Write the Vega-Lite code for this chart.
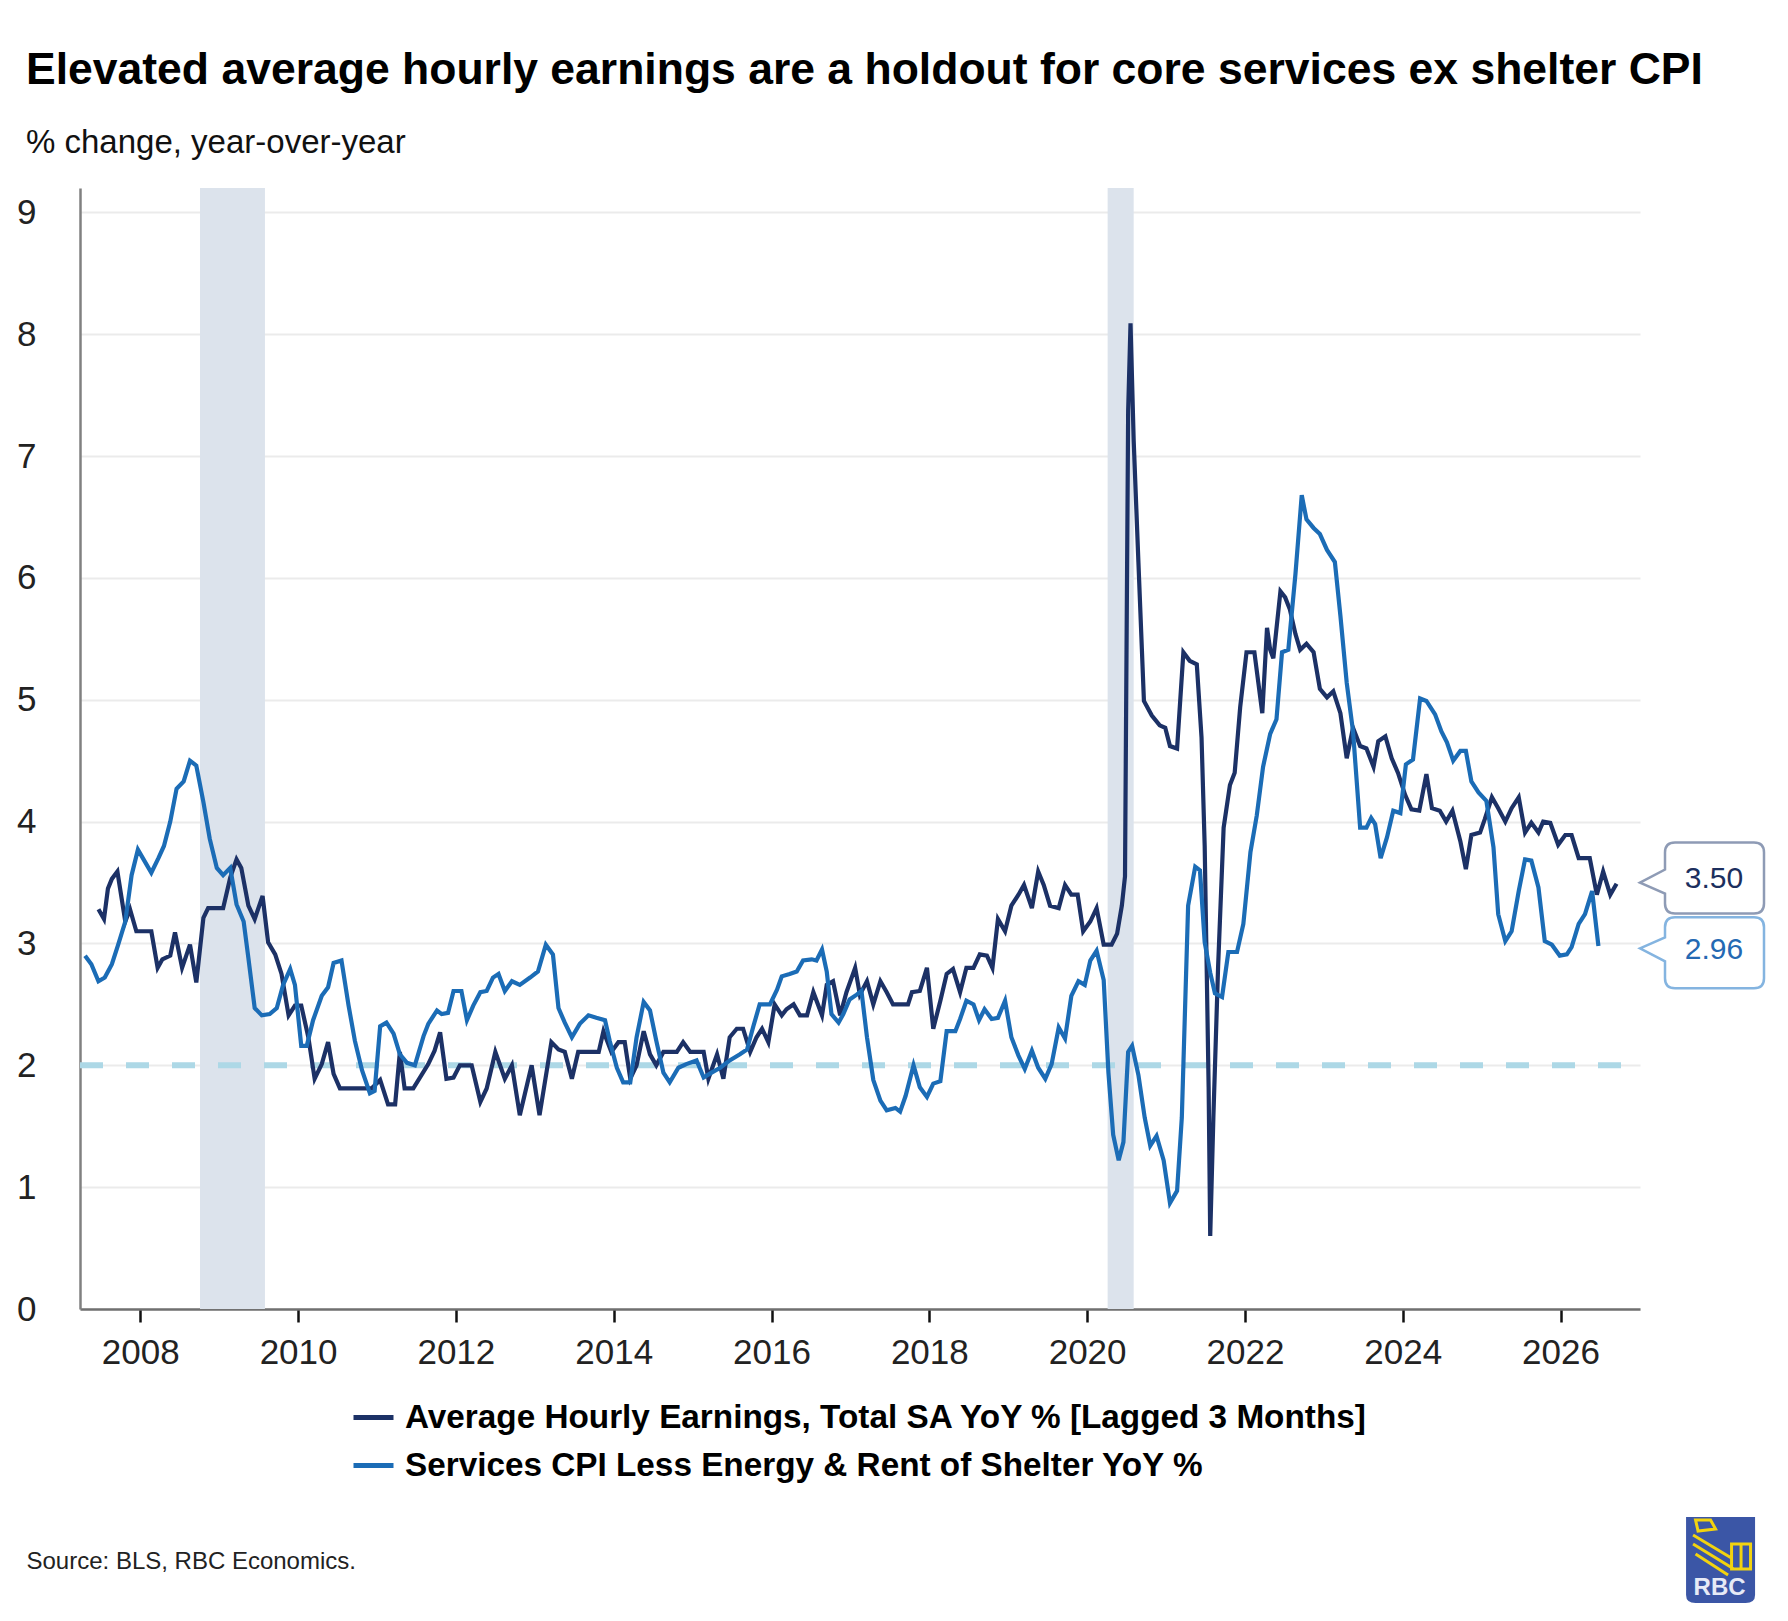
{
"$schema": "https://vega.github.io/schema/vega-lite/v6.json",
"autosize": {"type": "none"},
"padding": {"left": 80, "top": 188, "right": 148, "bottom": 312},
"width": 1560,
"height": 1121,
"background": "white",
"config": {"font": "Liberation Sans", "view": {"stroke": null}},
"title": {"text": "Elevated average hourly earnings are a holdout for core services ex shelter CPI", "subtitle": "% change, year-over-year", "anchor": "start", "frame": "group", "dx": -54, "fontSize": 44.5, "fontWeight": "bold", "color": "#000000", "font": "Liberation Sans", "subtitleFont": "Liberation Sans", "subtitleFontSize": 33, "subtitleColor": "#111111", "subtitlePadding": 33.5, "offset": 27},
"datasets": {
"series": [
{"s":"ahe","x":2007.47,"v":3.28},{"s":"ahe","x":2007.54,"v":3.20},{"s":"ahe","x":2007.59,"v":3.45},{"s":"ahe","x":2007.64,"v":3.53},{"s":"ahe","x":2007.71,"v":3.59},{"s":"ahe","x":2007.81,"v":3.18},{"s":"ahe","x":2007.87,"v":3.28},{"s":"ahe","x":2007.95,"v":3.10},{"s":"ahe","x":2008.14,"v":3.10},{"s":"ahe","x":2008.22,"v":2.80},{"s":"ahe","x":2008.28,"v":2.87},{"s":"ahe","x":2008.38,"v":2.90},{"s":"ahe","x":2008.44,"v":3.09},{"s":"ahe","x":2008.53,"v":2.80},{"s":"ahe","x":2008.63,"v":2.99},{"s":"ahe","x":2008.71,"v":2.68},{"s":"ahe","x":2008.80,"v":3.21},{"s":"ahe","x":2008.86,"v":3.29},{"s":"ahe","x":2009.05,"v":3.29},{"s":"ahe","x":2009.14,"v":3.54},{"s":"ahe","x":2009.22,"v":3.69},{"s":"ahe","x":2009.28,"v":3.62},{"s":"ahe","x":2009.37,"v":3.31},{"s":"ahe","x":2009.45,"v":3.20},{"s":"ahe","x":2009.55,"v":3.39},{"s":"ahe","x":2009.62,"v":3.01},{"s":"ahe","x":2009.71,"v":2.91},{"s":"ahe","x":2009.79,"v":2.75},{"s":"ahe","x":2009.88,"v":2.41},{"s":"ahe","x":2009.96,"v":2.49},{"s":"ahe","x":2010.04,"v":2.49},{"s":"ahe","x":2010.13,"v":2.23},{"s":"ahe","x":2010.21,"v":1.89},{"s":"ahe","x":2010.30,"v":2.01},{"s":"ahe","x":2010.38,"v":2.19},{"s":"ahe","x":2010.45,"v":1.93},{"s":"ahe","x":2010.53,"v":1.81},{"s":"ahe","x":2010.93,"v":1.81},{"s":"ahe","x":2011.04,"v":1.88},{"s":"ahe","x":2011.14,"v":1.68},{"s":"ahe","x":2011.23,"v":1.68},{"s":"ahe","x":2011.29,"v":2.11},{"s":"ahe","x":2011.35,"v":1.81},{"s":"ahe","x":2011.46,"v":1.81},{"s":"ahe","x":2011.65,"v":2.01},{"s":"ahe","x":2011.73,"v":2.12},{"s":"ahe","x":2011.80,"v":2.27},{"s":"ahe","x":2011.88,"v":1.89},{"s":"ahe","x":2011.97,"v":1.90},{"s":"ahe","x":2012.05,"v":2.00},{"s":"ahe","x":2012.20,"v":2.00},{"s":"ahe","x":2012.31,"v":1.70},{"s":"ahe","x":2012.39,"v":1.81},{"s":"ahe","x":2012.50,"v":2.11},{"s":"ahe","x":2012.62,"v":1.89},{"s":"ahe","x":2012.71,"v":2.00},{"s":"ahe","x":2012.81,"v":1.59},{"s":"ahe","x":2012.96,"v":2.00},{"s":"ahe","x":2013.06,"v":1.59},{"s":"ahe","x":2013.21,"v":2.19},{"s":"ahe","x":2013.30,"v":2.13},{"s":"ahe","x":2013.38,"v":2.11},{"s":"ahe","x":2013.47,"v":1.89},{"s":"ahe","x":2013.55,"v":2.11},{"s":"ahe","x":2013.81,"v":2.11},{"s":"ahe","x":2013.87,"v":2.28},{"s":"ahe","x":2013.97,"v":2.11},{"s":"ahe","x":2014.06,"v":2.19},{"s":"ahe","x":2014.14,"v":2.19},{"s":"ahe","x":2014.21,"v":1.89},{"s":"ahe","x":2014.29,"v":2.00},{"s":"ahe","x":2014.38,"v":2.28},{"s":"ahe","x":2014.46,"v":2.09},{"s":"ahe","x":2014.54,"v":2.00},{"s":"ahe","x":2014.63,"v":2.11},{"s":"ahe","x":2014.80,"v":2.11},{"s":"ahe","x":2014.88,"v":2.19},{"s":"ahe","x":2014.97,"v":2.11},{"s":"ahe","x":2015.14,"v":2.11},{"s":"ahe","x":2015.20,"v":1.89},{"s":"ahe","x":2015.31,"v":2.09},{"s":"ahe","x":2015.39,"v":1.89},{"s":"ahe","x":2015.47,"v":2.23},{"s":"ahe","x":2015.56,"v":2.30},{"s":"ahe","x":2015.64,"v":2.30},{"s":"ahe","x":2015.73,"v":2.11},{"s":"ahe","x":2015.81,"v":2.23},{"s":"ahe","x":2015.88,"v":2.30},{"s":"ahe","x":2015.96,"v":2.19},{"s":"ahe","x":2016.04,"v":2.50},{"s":"ahe","x":2016.13,"v":2.41},{"s":"ahe","x":2016.19,"v":2.46},{"s":"ahe","x":2016.28,"v":2.50},{"s":"ahe","x":2016.36,"v":2.41},{"s":"ahe","x":2016.45,"v":2.41},{"s":"ahe","x":2016.53,"v":2.60},{"s":"ahe","x":2016.64,"v":2.41},{"s":"ahe","x":2016.70,"v":2.66},{"s":"ahe","x":2016.78,"v":2.69},{"s":"ahe","x":2016.87,"v":2.41},{"s":"ahe","x":2016.95,"v":2.60},{"s":"ahe","x":2017.06,"v":2.80},{"s":"ahe","x":2017.12,"v":2.58},{"s":"ahe","x":2017.21,"v":2.69},{"s":"ahe","x":2017.29,"v":2.50},{"s":"ahe","x":2017.38,"v":2.69},{"s":"ahe","x":2017.46,"v":2.60},{"s":"ahe","x":2017.54,"v":2.50},{"s":"ahe","x":2017.73,"v":2.50},{"s":"ahe","x":2017.78,"v":2.60},{"s":"ahe","x":2017.88,"v":2.61},{"s":"ahe","x":2017.97,"v":2.80},{"s":"ahe","x":2018.05,"v":2.30},{"s":"ahe","x":2018.14,"v":2.53},{"s":"ahe","x":2018.22,"v":2.75},{"s":"ahe","x":2018.30,"v":2.79},{"s":"ahe","x":2018.39,"v":2.60},{"s":"ahe","x":2018.47,"v":2.80},{"s":"ahe","x":2018.56,"v":2.80},{"s":"ahe","x":2018.64,"v":2.91},{"s":"ahe","x":2018.73,"v":2.90},{"s":"ahe","x":2018.80,"v":2.80},{"s":"ahe","x":2018.87,"v":3.20},{"s":"ahe","x":2018.96,"v":3.10},{"s":"ahe","x":2019.04,"v":3.31},{"s":"ahe","x":2019.13,"v":3.40},{"s":"ahe","x":2019.20,"v":3.48},{"s":"ahe","x":2019.30,"v":3.29},{"s":"ahe","x":2019.38,"v":3.59},{"s":"ahe","x":2019.45,"v":3.48},{"s":"ahe","x":2019.53,"v":3.31},{"s":"ahe","x":2019.64,"v":3.29},{"s":"ahe","x":2019.72,"v":3.48},{"s":"ahe","x":2019.80,"v":3.40},{"s":"ahe","x":2019.88,"v":3.40},{"s":"ahe","x":2019.95,"v":3.10},{"s":"ahe","x":2020.04,"v":3.18},{"s":"ahe","x":2020.12,"v":3.29},{"s":"ahe","x":2020.21,"v":2.99},{"s":"ahe","x":2020.31,"v":2.99},{"s":"ahe","x":2020.38,"v":3.08},{"s":"ahe","x":2020.44,"v":3.31},{"s":"ahe","x":2020.48,"v":3.55},{"s":"ahe","x":2020.52,"v":7.37},{"s":"ahe","x":2020.55,"v":8.09},{"s":"ahe","x":2020.59,"v":7.13},{"s":"ahe","x":2020.65,"v":6.13},{"s":"ahe","x":2020.72,"v":4.99},{"s":"ahe","x":2020.82,"v":4.87},{"s":"ahe","x":2020.92,"v":4.79},{"s":"ahe","x":2020.99,"v":4.77},{"s":"ahe","x":2021.05,"v":4.62},{"s":"ahe","x":2021.14,"v":4.60},{"s":"ahe","x":2021.22,"v":5.39},{"s":"ahe","x":2021.30,"v":5.32},{"s":"ahe","x":2021.39,"v":5.29},{"s":"ahe","x":2021.45,"v":4.69},{"s":"ahe","x":2021.49,"v":3.80},{"s":"ahe","x":2021.54,"v":1.82},{"s":"ahe","x":2021.56,"v":0.60},{"s":"ahe","x":2021.60,"v":1.57},{"s":"ahe","x":2021.66,"v":2.81},{"s":"ahe","x":2021.73,"v":3.95},{"s":"ahe","x":2021.81,"v":4.30},{"s":"ahe","x":2021.87,"v":4.40},{"s":"ahe","x":2021.94,"v":4.94},{"s":"ahe","x":2022.02,"v":5.39},{"s":"ahe","x":2022.12,"v":5.39},{"s":"ahe","x":2022.17,"v":5.14},{"s":"ahe","x":2022.22,"v":4.89},{"s":"ahe","x":2022.28,"v":5.59},{"s":"ahe","x":2022.32,"v":5.41},{"s":"ahe","x":2022.36,"v":5.34},{"s":"ahe","x":2022.45,"v":5.89},{"s":"ahe","x":2022.51,"v":5.84},{"s":"ahe","x":2022.57,"v":5.74},{"s":"ahe","x":2022.64,"v":5.54},{"s":"ahe","x":2022.70,"v":5.41},{"s":"ahe","x":2022.78,"v":5.46},{"s":"ahe","x":2022.87,"v":5.39},{"s":"ahe","x":2022.95,"v":5.09},{"s":"ahe","x":2023.04,"v":5.02},{"s":"ahe","x":2023.12,"v":5.07},{"s":"ahe","x":2023.21,"v":4.89},{"s":"ahe","x":2023.29,"v":4.52},{"s":"ahe","x":2023.37,"v":4.77},{"s":"ahe","x":2023.46,"v":4.62},{"s":"ahe","x":2023.54,"v":4.60},{"s":"ahe","x":2023.63,"v":4.45},{"s":"ahe","x":2023.69,"v":4.66},{"s":"ahe","x":2023.78,"v":4.70},{"s":"ahe","x":2023.86,"v":4.52},{"s":"ahe","x":2023.94,"v":4.40},{"s":"ahe","x":2024.03,"v":4.22},{"s":"ahe","x":2024.11,"v":4.10},{"s":"ahe","x":2024.21,"v":4.09},{"s":"ahe","x":2024.30,"v":4.39},{"s":"ahe","x":2024.37,"v":4.11},{"s":"ahe","x":2024.47,"v":4.09},{"s":"ahe","x":2024.55,"v":4.00},{"s":"ahe","x":2024.63,"v":4.09},{"s":"ahe","x":2024.73,"v":3.84},{"s":"ahe","x":2024.80,"v":3.61},{"s":"ahe","x":2024.87,"v":3.89},{"s":"ahe","x":2024.98,"v":3.91},{"s":"ahe","x":2025.04,"v":4.02},{"s":"ahe","x":2025.13,"v":4.20},{"s":"ahe","x":2025.21,"v":4.11},{"s":"ahe","x":2025.30,"v":4.00},{"s":"ahe","x":2025.38,"v":4.11},{"s":"ahe","x":2025.47,"v":4.20},{"s":"ahe","x":2025.55,"v":3.91},{"s":"ahe","x":2025.63,"v":3.99},{"s":"ahe","x":2025.72,"v":3.91},{"s":"ahe","x":2025.78,"v":4.00},{"s":"ahe","x":2025.87,"v":3.99},{"s":"ahe","x":2025.97,"v":3.81},{"s":"ahe","x":2026.06,"v":3.89},{"s":"ahe","x":2026.14,"v":3.89},{"s":"ahe","x":2026.23,"v":3.70},{"s":"ahe","x":2026.37,"v":3.70},{"s":"ahe","x":2026.46,"v":3.40},{"s":"ahe","x":2026.54,"v":3.59},{"s":"ahe","x":2026.63,"v":3.40},{"s":"ahe","x":2026.71,"v":3.49},
{"s":"cpi","x":2007.30,"v":2.90},{"s":"cpi","x":2007.38,"v":2.83},{"s":"cpi","x":2007.47,"v":2.69},{"s":"cpi","x":2007.55,"v":2.72},{"s":"cpi","x":2007.64,"v":2.83},{"s":"cpi","x":2007.72,"v":2.99},{"s":"cpi","x":2007.81,"v":3.18},{"s":"cpi","x":2007.89,"v":3.56},{"s":"cpi","x":2007.97,"v":3.77},{"s":"cpi","x":2008.06,"v":3.67},{"s":"cpi","x":2008.14,"v":3.58},{"s":"cpi","x":2008.23,"v":3.70},{"s":"cpi","x":2008.30,"v":3.80},{"s":"cpi","x":2008.38,"v":4.00},{"s":"cpi","x":2008.46,"v":4.27},{"s":"cpi","x":2008.55,"v":4.33},{"s":"cpi","x":2008.63,"v":4.50},{"s":"cpi","x":2008.71,"v":4.46},{"s":"cpi","x":2008.80,"v":4.16},{"s":"cpi","x":2008.88,"v":3.86},{"s":"cpi","x":2008.97,"v":3.62},{"s":"cpi","x":2009.05,"v":3.56},{"s":"cpi","x":2009.14,"v":3.62},{"s":"cpi","x":2009.22,"v":3.32},{"s":"cpi","x":2009.31,"v":3.18},{"s":"cpi","x":2009.37,"v":2.88},{"s":"cpi","x":2009.45,"v":2.47},{"s":"cpi","x":2009.54,"v":2.41},{"s":"cpi","x":2009.64,"v":2.42},{"s":"cpi","x":2009.73,"v":2.47},{"s":"cpi","x":2009.81,"v":2.66},{"s":"cpi","x":2009.90,"v":2.79},{"s":"cpi","x":2009.96,"v":2.66},{"s":"cpi","x":2010.04,"v":2.16},{"s":"cpi","x":2010.11,"v":2.16},{"s":"cpi","x":2010.19,"v":2.37},{"s":"cpi","x":2010.30,"v":2.57},{"s":"cpi","x":2010.38,"v":2.64},{"s":"cpi","x":2010.45,"v":2.84},{"s":"cpi","x":2010.55,"v":2.86},{"s":"cpi","x":2010.64,"v":2.49},{"s":"cpi","x":2010.72,"v":2.20},{"s":"cpi","x":2010.81,"v":1.96},{"s":"cpi","x":2010.91,"v":1.77},{"s":"cpi","x":2010.97,"v":1.79},{"s":"cpi","x":2011.04,"v":2.32},{"s":"cpi","x":2011.12,"v":2.35},{"s":"cpi","x":2011.21,"v":2.26},{"s":"cpi","x":2011.29,"v":2.09},{"s":"cpi","x":2011.38,"v":2.02},{"s":"cpi","x":2011.48,"v":2.00},{"s":"cpi","x":2011.59,"v":2.24},{"s":"cpi","x":2011.65,"v":2.34},{"s":"cpi","x":2011.76,"v":2.45},{"s":"cpi","x":2011.82,"v":2.42},{"s":"cpi","x":2011.90,"v":2.43},{"s":"cpi","x":2011.97,"v":2.61},{"s":"cpi","x":2012.07,"v":2.61},{"s":"cpi","x":2012.14,"v":2.37},{"s":"cpi","x":2012.22,"v":2.49},{"s":"cpi","x":2012.31,"v":2.60},{"s":"cpi","x":2012.39,"v":2.61},{"s":"cpi","x":2012.47,"v":2.72},{"s":"cpi","x":2012.54,"v":2.75},{"s":"cpi","x":2012.62,"v":2.61},{"s":"cpi","x":2012.71,"v":2.69},{"s":"cpi","x":2012.81,"v":2.66},{"s":"cpi","x":2012.94,"v":2.72},{"s":"cpi","x":2013.04,"v":2.77},{"s":"cpi","x":2013.14,"v":2.99},{"s":"cpi","x":2013.23,"v":2.91},{"s":"cpi","x":2013.30,"v":2.47},{"s":"cpi","x":2013.38,"v":2.35},{"s":"cpi","x":2013.47,"v":2.23},{"s":"cpi","x":2013.57,"v":2.34},{"s":"cpi","x":2013.68,"v":2.41},{"s":"cpi","x":2013.78,"v":2.39},{"s":"cpi","x":2013.89,"v":2.37},{"s":"cpi","x":2013.95,"v":2.20},{"s":"cpi","x":2014.04,"v":1.98},{"s":"cpi","x":2014.12,"v":1.86},{"s":"cpi","x":2014.21,"v":1.86},{"s":"cpi","x":2014.29,"v":2.23},{"s":"cpi","x":2014.38,"v":2.52},{"s":"cpi","x":2014.46,"v":2.45},{"s":"cpi","x":2014.54,"v":2.20},{"s":"cpi","x":2014.63,"v":1.94},{"s":"cpi","x":2014.71,"v":1.86},{"s":"cpi","x":2014.82,"v":1.98},{"s":"cpi","x":2014.92,"v":2.01},{"s":"cpi","x":2015.05,"v":2.04},{"s":"cpi","x":2015.14,"v":1.90},{"s":"cpi","x":2015.24,"v":1.94},{"s":"cpi","x":2015.35,"v":1.98},{"s":"cpi","x":2015.47,"v":2.04},{"s":"cpi","x":2015.60,"v":2.09},{"s":"cpi","x":2015.69,"v":2.13},{"s":"cpi","x":2015.77,"v":2.32},{"s":"cpi","x":2015.85,"v":2.50},{"s":"cpi","x":2015.98,"v":2.50},{"s":"cpi","x":2016.07,"v":2.62},{"s":"cpi","x":2016.13,"v":2.73},{"s":"cpi","x":2016.23,"v":2.75},{"s":"cpi","x":2016.32,"v":2.77},{"s":"cpi","x":2016.40,"v":2.86},{"s":"cpi","x":2016.51,"v":2.87},{"s":"cpi","x":2016.57,"v":2.86},{"s":"cpi","x":2016.64,"v":2.95},{"s":"cpi","x":2016.70,"v":2.77},{"s":"cpi","x":2016.76,"v":2.42},{"s":"cpi","x":2016.85,"v":2.35},{"s":"cpi","x":2016.91,"v":2.42},{"s":"cpi","x":2016.99,"v":2.54},{"s":"cpi","x":2017.08,"v":2.58},{"s":"cpi","x":2017.14,"v":2.61},{"s":"cpi","x":2017.21,"v":2.23},{"s":"cpi","x":2017.29,"v":1.88},{"s":"cpi","x":2017.38,"v":1.71},{"s":"cpi","x":2017.46,"v":1.63},{"s":"cpi","x":2017.57,"v":1.65},{"s":"cpi","x":2017.63,"v":1.62},{"s":"cpi","x":2017.70,"v":1.75},{"s":"cpi","x":2017.80,"v":2.00},{"s":"cpi","x":2017.88,"v":1.82},{"s":"cpi","x":2017.97,"v":1.74},{"s":"cpi","x":2018.05,"v":1.85},{"s":"cpi","x":2018.14,"v":1.87},{"s":"cpi","x":2018.22,"v":2.28},{"s":"cpi","x":2018.33,"v":2.28},{"s":"cpi","x":2018.39,"v":2.38},{"s":"cpi","x":2018.47,"v":2.53},{"s":"cpi","x":2018.56,"v":2.50},{"s":"cpi","x":2018.63,"v":2.37},{"s":"cpi","x":2018.70,"v":2.46},{"s":"cpi","x":2018.79,"v":2.38},{"s":"cpi","x":2018.87,"v":2.39},{"s":"cpi","x":2018.96,"v":2.53},{"s":"cpi","x":2019.04,"v":2.23},{"s":"cpi","x":2019.13,"v":2.08},{"s":"cpi","x":2019.21,"v":1.97},{"s":"cpi","x":2019.30,"v":2.12},{"s":"cpi","x":2019.38,"v":1.98},{"s":"cpi","x":2019.47,"v":1.89},{"s":"cpi","x":2019.55,"v":2.01},{"s":"cpi","x":2019.64,"v":2.31},{"s":"cpi","x":2019.72,"v":2.22},{"s":"cpi","x":2019.80,"v":2.57},{"s":"cpi","x":2019.89,"v":2.69},{"s":"cpi","x":2019.97,"v":2.66},{"s":"cpi","x":2020.04,"v":2.86},{"s":"cpi","x":2020.12,"v":2.94},{"s":"cpi","x":2020.21,"v":2.70},{"s":"cpi","x":2020.27,"v":1.94},{"s":"cpi","x":2020.33,"v":1.43},{"s":"cpi","x":2020.40,"v":1.22},{"s":"cpi","x":2020.46,"v":1.37},{"s":"cpi","x":2020.52,"v":2.11},{"s":"cpi","x":2020.57,"v":2.16},{"s":"cpi","x":2020.65,"v":1.92},{"s":"cpi","x":2020.73,"v":1.57},{"s":"cpi","x":2020.80,"v":1.34},{"s":"cpi","x":2020.88,"v":1.42},{"s":"cpi","x":2020.97,"v":1.22},{"s":"cpi","x":2021.05,"v":0.87},{"s":"cpi","x":2021.14,"v":0.97},{"s":"cpi","x":2021.20,"v":1.57},{"s":"cpi","x":2021.28,"v":3.31},{"s":"cpi","x":2021.37,"v":3.63},{"s":"cpi","x":2021.43,"v":3.60},{"s":"cpi","x":2021.49,"v":3.01},{"s":"cpi","x":2021.56,"v":2.76},{"s":"cpi","x":2021.62,"v":2.59},{"s":"cpi","x":2021.71,"v":2.56},{"s":"cpi","x":2021.79,"v":2.93},{"s":"cpi","x":2021.90,"v":2.93},{"s":"cpi","x":2021.98,"v":3.16},{"s":"cpi","x":2022.07,"v":3.75},{"s":"cpi","x":2022.15,"v":4.05},{"s":"cpi","x":2022.23,"v":4.45},{"s":"cpi","x":2022.32,"v":4.72},{"s":"cpi","x":2022.40,"v":4.84},{"s":"cpi","x":2022.47,"v":5.39},{"s":"cpi","x":2022.55,"v":5.41},{"s":"cpi","x":2022.64,"v":6.03},{"s":"cpi","x":2022.72,"v":6.68},{"s":"cpi","x":2022.78,"v":6.48},{"s":"cpi","x":2022.87,"v":6.41},{"s":"cpi","x":2022.95,"v":6.36},{"s":"cpi","x":2023.04,"v":6.23},{"s":"cpi","x":2023.14,"v":6.13},{"s":"cpi","x":2023.21,"v":5.69},{"s":"cpi","x":2023.29,"v":5.14},{"s":"cpi","x":2023.37,"v":4.74},{"s":"cpi","x":2023.46,"v":3.95},{"s":"cpi","x":2023.54,"v":3.95},{"s":"cpi","x":2023.60,"v":4.03},{"s":"cpi","x":2023.65,"v":3.98},{"s":"cpi","x":2023.72,"v":3.70},{"s":"cpi","x":2023.80,"v":3.87},{"s":"cpi","x":2023.88,"v":4.09},{"s":"cpi","x":2023.97,"v":4.07},{"s":"cpi","x":2024.04,"v":4.47},{"s":"cpi","x":2024.13,"v":4.51},{"s":"cpi","x":2024.22,"v":5.01},{"s":"cpi","x":2024.30,"v":4.99},{"s":"cpi","x":2024.41,"v":4.88},{"s":"cpi","x":2024.49,"v":4.74},{"s":"cpi","x":2024.56,"v":4.65},{"s":"cpi","x":2024.64,"v":4.50},{"s":"cpi","x":2024.73,"v":4.58},{"s":"cpi","x":2024.80,"v":4.58},{"s":"cpi","x":2024.87,"v":4.33},{"s":"cpi","x":2024.96,"v":4.24},{"s":"cpi","x":2025.06,"v":4.17},{"s":"cpi","x":2025.15,"v":3.79},{"s":"cpi","x":2025.21,"v":3.24},{"s":"cpi","x":2025.30,"v":3.02},{"s":"cpi","x":2025.38,"v":3.10},{"s":"cpi","x":2025.47,"v":3.43},{"s":"cpi","x":2025.55,"v":3.69},{"s":"cpi","x":2025.63,"v":3.68},{"s":"cpi","x":2025.72,"v":3.46},{"s":"cpi","x":2025.80,"v":3.02},{"s":"cpi","x":2025.89,"v":2.99},{"s":"cpi","x":2025.99,"v":2.90},{"s":"cpi","x":2026.08,"v":2.91},{"s":"cpi","x":2026.14,"v":2.97},{"s":"cpi","x":2026.23,"v":3.16},{"s":"cpi","x":2026.31,"v":3.24},{"s":"cpi","x":2026.40,"v":3.43},{"s":"cpi","x":2026.48,"v":2.98}
],
"recessions": [{"x": 2008.757, "x2": 2009.58}, {"x": 2020.26, "x2": 2020.59}],
"target": [{"v": 2, "x": 2007.236, "x2": 2027.007}],
"callouts": [{"s": "ahe", "x": 2027.007, "v": 3.50, "t": "3.50"}, {"s": "cpi", "x": 2027.007, "v": 2.96, "t": "2.96"}],
"logo": [{"x": 2028.028, "v": -2.06, "t": "RBC"}]
},
"layer": [
{
"data": {"name": "recessions"},
"mark": {"type": "rect", "color": "#dce3ec"},
"encoding": {
"x": {"field": "x", "type": "quantitative", "scale": {"domain": [2007.236, 2027.007], "nice": false, "zero": false},
"axis": {"title": "Source: BLS, RBC Economics.", "values": [2008, 2010, 2012, 2014, 2016, 2018, 2020, 2022, 2024, 2026], "format": "d", "grid": false, "domainColor": "#707070", "domainWidth": 2.5, "tickColor": "#111111", "tickSize": 13, "tickWidth": 2.5, "labelFontSize": 35, "labelPadding": 13, "labelColor": "#222222", "labelFont": "Liberation Sans", "titleX": -54, "titleY": 259, "titleAlign": "left", "titleAnchor": "start", "titleBaseline": "alphabetic", "titleFontSize": 24, "titleFontWeight": "normal", "titleColor": "#222222", "titleFont": "Liberation Sans"}},
"x2": {"field": "x2"}
}
},
{
"data": {"name": "target"},
"mark": {"type": "rule", "color": "#add8e6", "strokeWidth": 6, "strokeDash": [23, 23]},
"encoding": {
"x": {"field": "x", "type": "quantitative", "scale": {"domain": [2007.236, 2027.007], "nice": false, "zero": false}},
"x2": {"field": "x2"},
"y": {"field": "v", "type": "quantitative", "scale": {"domain": [0, 9.2], "nice": false},
"axis": {"title": null, "values": [0, 1, 2, 3, 4, 5, 6, 7, 8, 9], "format": "d", "grid": true, "gridColor": "#ebebeb", "gridWidth": 2, "domainColor": "#808080", "domainWidth": 2.5, "ticks": false, "labelPadding": 44, "labelFontSize": 35, "labelColor": "#222222", "labelFont": "Liberation Sans"}}
}
},
{
"data": {"name": "series"},
"mark": {"type": "line", "strokeWidth": 4.2},
"encoding": {
"x": {"field": "x", "type": "quantitative", "scale": {"domain": [2007.236, 2027.007], "nice": false, "zero": false}},
"y": {"field": "v", "type": "quantitative", "scale": {"domain": [0, 9.2], "nice": false}},
"color": {"field": "s", "type": "nominal", "scale": {"domain": ["ahe", "cpi"], "range": ["#1c3166", "#1b6cb6"]},
"legend": {"title": null, "orient": "none", "legendX": 271, "legendY": 1207, "direction": "vertical", "symbolType": "stroke", "symbolSize": 1600, "symbolStrokeWidth": 5, "labelFontSize": 33.3, "labelFontWeight": "bold", "labelColor": "#000000", "labelFont": "Liberation Sans", "labelOffset": 9, "rowPadding": 9, "labelLimit": 0, "padding": 0,
"labelExpr": "datum.value == 'ahe' ? 'Average Hourly Earnings, Total SA YoY % [Lagged 3 Months]' : 'Services CPI Less Energy & Rent of Shelter YoY %'"}}
}
},
{
"data": {"name": "callouts"},
"transform": [{"filter": "datum.s == 'ahe'"}],
"mark": {"type": "point", "shape": "M0,0 L0.5,-0.26 L0.5,-0.6 Q0.5,-0.8 0.7,-0.8 L2.28,-0.8 Q2.48,-0.8 2.48,-0.6 L2.48,0.42 Q2.48,0.62 2.28,0.62 L0.7,0.62 Q0.5,0.62 0.5,0.42 L0.5,0.22 Z", "size": 10000, "filled": true, "fill": "#ffffff", "stroke": "#8e9bb5", "strokeWidth": 2.5, "opacity": 1},
"encoding": {
"x": {"field": "x", "type": "quantitative"},
"y": {"field": "v", "type": "quantitative"}
}
},
{
"data": {"name": "callouts"},
"transform": [{"filter": "datum.s == 'cpi'"}],
"mark": {"type": "point", "shape": "M0,0 L0.5,-0.22 L0.5,-0.42 Q0.5,-0.62 0.7,-0.62 L2.28,-0.62 Q2.48,-0.62 2.48,-0.42 L2.48,0.6 Q2.48,0.8 2.28,0.8 L0.7,0.8 Q0.5,0.8 0.5,0.6 L0.5,0.26 Z", "size": 10000, "filled": true, "fill": "#ffffff", "stroke": "#84b4e0", "strokeWidth": 2.5, "opacity": 1},
"encoding": {
"x": {"field": "x", "type": "quantitative"},
"y": {"field": "v", "type": "quantitative"}
}
},
{
"data": {"name": "callouts"},
"transform": [{"filter": "datum.s == 'ahe'"}],
"mark": {"type": "text", "dx": 74, "dy": -4, "fontSize": 30, "font": "Liberation Sans", "color": "#1c2f5e", "align": "center", "baseline": "middle"},
"encoding": {
"x": {"field": "x", "type": "quantitative"},
"y": {"field": "v", "type": "quantitative"},
"text": {"field": "t"}
}
},
{
"data": {"name": "callouts"},
"transform": [{"filter": "datum.s == 'cpi'"}],
"mark": {"type": "text", "dx": 74, "dy": 2, "fontSize": 30, "font": "Liberation Sans", "color": "#2469b3", "align": "center", "baseline": "middle"},
"encoding": {
"x": {"field": "x", "type": "quantitative"},
"y": {"field": "v", "type": "quantitative"},
"text": {"field": "t"}
}
},
{
"data": {"name": "logo"},
"mark": {"type": "point", "shape": "M-0.69,-0.86 L0.69,-0.86 L0.69,0.7 Q0.69,0.86 0.5,0.86 L-0.5,0.86 Q-0.69,0.86 -0.69,0.7 Z", "size": 10000, "filled": true, "fill": "#3b56a6", "strokeWidth": 0, "opacity": 1},
"encoding": {
"x": {"field": "x", "type": "quantitative"},
"y": {"field": "v", "type": "quantitative"}
}
},
{
"data": {"name": "logo"},
"mark": {"type": "point", "shape": "M-0.5,-0.8 L-0.2,-0.8 L-0.1,-0.62 L-0.45,-0.58 Z M-0.55,-0.5 L0.2,-0.05 M-0.55,-0.32 L0.25,0.17 M-0.5,-0.12 L0.15,0.3 M0.22,-0.32 L0.6,-0.32 L0.6,0.18 L0.22,0.18 Z M0.41,-0.32 L0.41,0.18", "size": 10000, "filled": false, "stroke": "#f2d30f", "strokeWidth": 3, "opacity": 1},
"encoding": {
"x": {"field": "x", "type": "quantitative"},
"y": {"field": "v", "type": "quantitative"}
}
},
{
"data": {"name": "logo"},
"mark": {"type": "text", "dy": 28, "dx": -1, "fontSize": 24, "fontWeight": "bold", "font": "Liberation Sans", "color": "#e6eaf6", "align": "center", "baseline": "middle"},
"encoding": {
"x": {"field": "x", "type": "quantitative"},
"y": {"field": "v", "type": "quantitative"},
"text": {"field": "t"}
}
}
]
}
